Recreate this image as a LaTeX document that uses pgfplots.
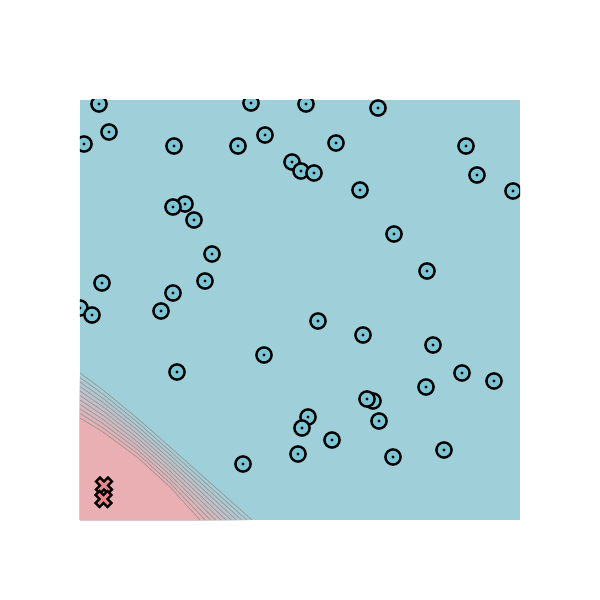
\documentclass[border=0pt]{standalone}
\usepackage{pgfplots}
\pgfplotsset{compat=1.18}
\definecolor{bgblue}{RGB}{159,207,217}
\definecolor{bgpink}{RGB}{233,175,178}
\definecolor{cfill}{RGB}{124,197,212}
\definecolor{xfill}{RGB}{230,135,138}
\pgfdeclareplotmark{cdot}{%
  \pgfpathcircle{\pgfpointorigin}{\pgfplotmarksize}%
  \pgfusepathqfillstroke
  \begin{pgfscope}%
  \pgfsetfillcolor{black}%
  \pgfpathcircle{\pgfpointorigin}{0.21\pgfplotmarksize}%
  \pgfusepathqfill
  \end{pgfscope}%
}
\pgfdeclareplotmark{Xf}{%
  \pgftransformrotate{45}%
  \pgfpathmoveto{\pgfpoint{0.33\pgfplotmarksize}{\pgfplotmarksize}}%
  \pgfpathlineto{\pgfpoint{-0.33\pgfplotmarksize}{\pgfplotmarksize}}%
  \pgfpathlineto{\pgfpoint{-0.33\pgfplotmarksize}{0.33\pgfplotmarksize}}%
  \pgfpathlineto{\pgfpoint{-\pgfplotmarksize}{0.33\pgfplotmarksize}}%
  \pgfpathlineto{\pgfpoint{-\pgfplotmarksize}{-0.33\pgfplotmarksize}}%
  \pgfpathlineto{\pgfpoint{-0.33\pgfplotmarksize}{-0.33\pgfplotmarksize}}%
  \pgfpathlineto{\pgfpoint{-0.33\pgfplotmarksize}{-\pgfplotmarksize}}%
  \pgfpathlineto{\pgfpoint{0.33\pgfplotmarksize}{-\pgfplotmarksize}}%
  \pgfpathlineto{\pgfpoint{0.33\pgfplotmarksize}{-0.33\pgfplotmarksize}}%
  \pgfpathlineto{\pgfpoint{\pgfplotmarksize}{-0.33\pgfplotmarksize}}%
  \pgfpathlineto{\pgfpoint{\pgfplotmarksize}{0.33\pgfplotmarksize}}%
  \pgfpathlineto{\pgfpoint{0.33\pgfplotmarksize}{0.33\pgfplotmarksize}}%
  \pgfpathclose
  \pgfusepathqfillstroke
}
\begin{document}
\begin{tikzpicture}
\useasboundingbox (-80pt,-80pt) rectangle (520pt,520pt);
\begin{axis}[
  at={(0pt,0pt)}, anchor=south west,
  scale only axis, width=440pt, height=420pt,
  xmin=0, xmax=440, ymin=0, ymax=420,
  xtick=\empty, ytick=\empty,
  axis line style={draw=none},
  axis background/.style={fill=bgblue},
  clip=true, clip marker paths=true,
]
% contour bands, outer to inner
\addplot[draw=none, fill=bgblue!93!bgpink] coordinates {(0,147) (23,130) (57,102) (90,73) (172,0)} \closedcycle;
\addplot[draw=none, fill=bgblue!83!bgpink] coordinates {(0,142.5) (23,125.8) (57,98.1) (90,69) (166.8,0)} \closedcycle;
\addplot[draw=none, fill=bgblue!73!bgpink] coordinates {(0,138) (23,121.6) (57,94.2) (90,65) (161.6,0)} \closedcycle;
\addplot[draw=none, fill=bgblue!63!bgpink] coordinates {(0,133.5) (23,117.4) (57,90.3) (90,61) (156.4,0)} \closedcycle;
\addplot[draw=none, fill=bgblue!53!bgpink] coordinates {(0,129) (23,113.2) (57,86.4) (90,57) (151.2,0)} \closedcycle;
\addplot[draw=none, fill=bgblue!45!bgpink] coordinates {(0,124.5) (23,109) (57,82.5) (90,53) (146,0)} \closedcycle;
\addplot[draw=none, fill=bgblue!37!bgpink] coordinates {(0,120) (23,104.8) (57,78.6) (90,49) (140.8,0)} \closedcycle;
\addplot[draw=none, fill=bgblue!27!bgpink] coordinates {(0,115.5) (23,100.6) (57,74.7) (90,45) (135.6,0)} \closedcycle;
\addplot[draw=none, fill=bgblue!17!bgpink] coordinates {(0,111) (23,96.4) (57,70.8) (90,41) (130.4,0)} \closedcycle;
\addplot[draw=none, fill=bgblue!7!bgpink] coordinates {(0,106.5) (23,92.2) (57,66.9) (90,37) (125.2,0)} \closedcycle;
\addplot[draw=none, fill=bgpink] coordinates {(0,102) (23,88) (57,63) (90,33) (120,0)} \closedcycle;
% contour lines
\addplot[gray!90, line width=0.5pt] coordinates {(0,102) (23,88) (57,63) (90,33) (120,0)};
\addplot[gray!90, line width=0.5pt] coordinates {(0,106.5) (23,92.2) (57,66.9) (90,37) (125.2,0)};
\addplot[gray!90, line width=0.5pt] coordinates {(0,111) (23,96.4) (57,70.8) (90,41) (130.4,0)};
\addplot[gray!90, line width=0.5pt] coordinates {(0,115.5) (23,100.6) (57,74.7) (90,45) (135.6,0)};
\addplot[gray!90, line width=0.5pt] coordinates {(0,120) (23,104.8) (57,78.6) (90,49) (140.8,0)};
\addplot[gray!90, line width=0.5pt] coordinates {(0,124.5) (23,109) (57,82.5) (90,53) (146,0)};
\addplot[gray!90, line width=0.5pt] coordinates {(0,129) (23,113.2) (57,86.4) (90,57) (151.2,0)};
\addplot[gray!90, line width=0.5pt] coordinates {(0,133.5) (23,117.4) (57,90.3) (90,61) (156.4,0)};
\addplot[gray!90, line width=0.5pt] coordinates {(0,138) (23,121.6) (57,94.2) (90,65) (161.6,0)};
\addplot[gray!90, line width=0.5pt] coordinates {(0,142.5) (23,125.8) (57,98.1) (90,69) (166.8,0)};
\addplot[gray!90, line width=0.5pt] coordinates {(0,147) (23,130) (57,102) (90,73) (172,0)};
% class markers
\addplot[only marks, mark=cdot, mark size=7.6pt,
  mark options={draw=black, fill=cfill, line width=2.4pt}] coordinates {
(19,416) (171,417) (226,416) (298,412) (29,388) (4,376) (94,374) (158,374)
(185,385) (256,377) (386,374) (212,358) (221,349) (234,347) (280,330) (397,345)
(433,329) (105,316) (93,313) (114,300) (314,286) (132,266) (347,249) (22,237)
(93,227) (125,239) (0,212) (12,205) (81,209) (238,199) (283,185) (353,175)
(184,165) (97,148) (382,147) (414,139) (346,133) (293,119) (287,121) (299,99)
(228,103) (222,92) (252,80) (218,66) (313,63) (364,70) (163,56)
};
\addplot[only marks, mark=Xf, mark size=8.5pt,
  mark options={draw=black, fill=xfill, line width=2.3pt}] coordinates {
(24,34.5) (23.5,21)
};
\end{axis}
\end{tikzpicture}
\end{document}
